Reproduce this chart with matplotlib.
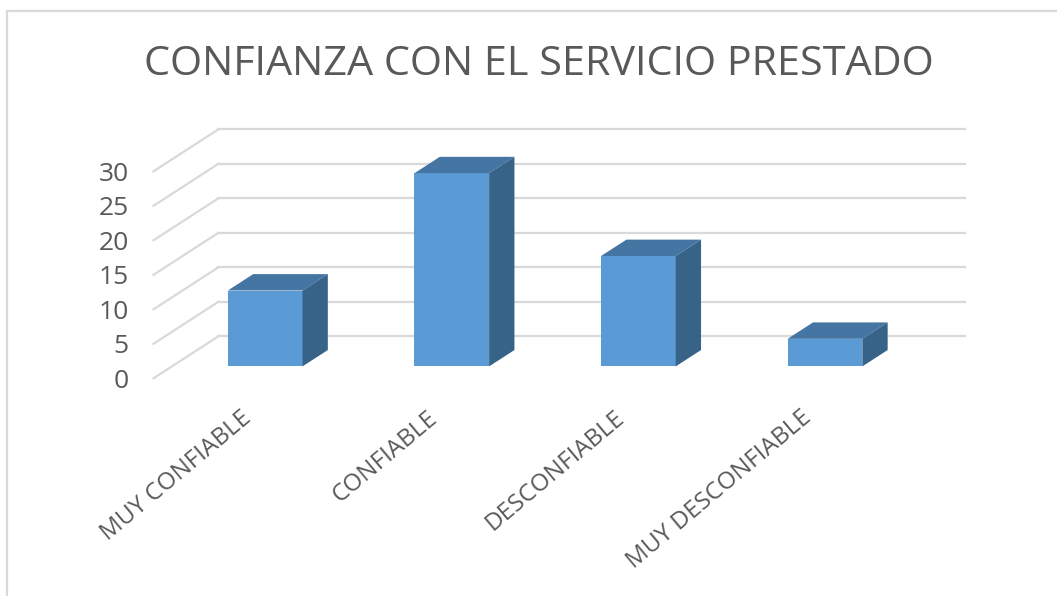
import matplotlib
matplotlib.use("Agg")
import matplotlib.pyplot as plt
from matplotlib.patches import Polygon, Rectangle
import numpy as np

# ---- data ----
categories = ["MUY CONFIABLE", "CONFIABLE", "DESCONFIABLE", "MUY DESCONFIABLE"]
values = [11, 28, 16, 4]
y_ticks = [0, 5, 10, 15, 20, 25, 30]
title = "CONFIANZA CON EL SERVICIO PRESTADO"

# ---- style / layout ----
FONT = "Open Sans"
TXT = "#595959"
GRID = "#d9d9d9"
FRONT = "#5b9bd5"
TOP = "#4475a3"
SIDE = "#386389"
DX, DY = 0.348, 6.09      # oblique offset for full floor depth (data units)
F0, F1 = 0.283, 0.673     # bar front / back depth fractions
BAR_W = 0.4

W, H = 1057, 596
fig = plt.figure(figsize=(W / 100, H / 100), dpi=100)
fig.patch.set_facecolor("white")

ax = fig.add_axes([153.5 / W, (H - 385.2) / H, (1011.9 - 153.5) / W, (385.2 - 123.0) / H])
ax.set_xlim(-0.5, 4.1)
ax.set_ylim(-1, 37)
for s in ax.spines.values():
    s.set_visible(False)
ax.set_xticks([])
ax.set_yticks(y_ticks)
ax.set_yticklabels([str(t) for t in y_ticks], fontfamily=FONT, fontsize=19, color=TXT)
ax.tick_params(axis="y", length=0, pad=18)
ax.set_facecolor("none")

n = len(categories)
x0, x1 = -0.5, n - 0.5

# gridlines: back wall and left wall
for t in y_ticks:
    ax.plot([x0 + DX, x1 + DX], [t + DY, t + DY], color=GRID, lw=1.6, zorder=1, clip_on=False)
    ax.plot([x0, x0 + DX], [t, t + DY], color=GRID, lw=1.6, zorder=1, clip_on=False)

# bars
pos = np.arange(n)
fx, fy = F0 * DX, F0 * DY
ddx, ddy = (F1 - F0) * DX, (F1 - F0) * DY
bars = ax.bar(pos + fx, values, bottom=fy, width=BAR_W, color=FRONT, zorder=3)
for i, v in enumerate(values):
    xl = i - BAR_W / 2 + fx
    xr = i + BAR_W / 2 + fx
    top = v + fy
    ax.add_patch(Polygon([(xl, top), (xr, top), (xr + ddx, top + ddy), (xl + ddx, top + ddy)],
                         closed=True, facecolor=TOP, edgecolor="none", zorder=3))
    ax.add_patch(Polygon([(xr, fy), (xr, top), (xr + ddx, top + ddy), (xr + ddx, fy + ddy)],
                         closed=True, facecolor=SIDE, edgecolor="none", zorder=3))

# category labels (rotated)
LAB_DX, LAB_Y = 0.028, -6.0
for i, c in enumerate(categories):
    ax.text(i + LAB_DX, LAB_Y, c, rotation=40, rotation_mode="anchor",
            ha="right", va="baseline", fontfamily=FONT, fontsize=17.5, color=TXT, clip_on=False)

# title
fig.text(539 / W, 1 - 75 / H, title, ha="center", va="baseline",
         fontfamily=FONT, fontsize=29.8, color=TXT)

# chart border
fig.patches.append(Rectangle((7 / W, -0.1), 1.2, (H - 11) / H + 0.1, transform=fig.transFigure,
                             facecolor="none", edgecolor=GRID, lw=1.6))

fig.savefig("out.png", dpi=100, facecolor="white")
